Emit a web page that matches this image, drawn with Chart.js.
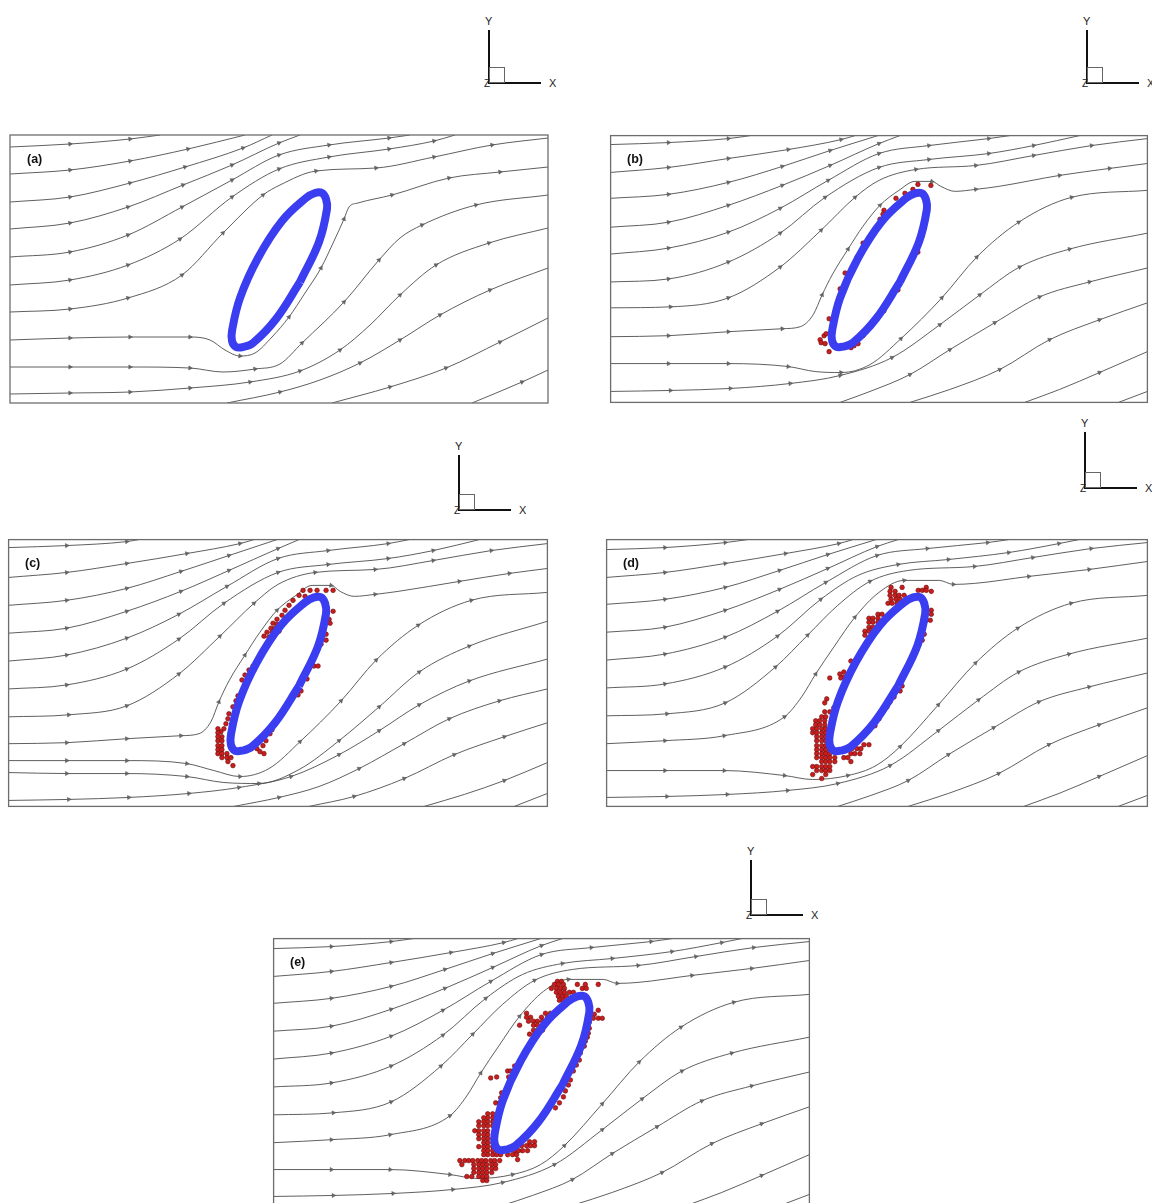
<!DOCTYPE html>
<html lang="en">
  <head>
    <meta charset="UTF-8" />
    <title>Streamlines around an inclined ellipse</title>
    <script src="https://cdn.jsdelivr.net/npm/chart.js@4.4.1/dist/chart.umd.min.js"></script>
    <style>
      html, body {
        margin: 0;
        padding: 0;
        background: #fff;
        width: 1152px;
        height: 1203px;
        overflow: hidden;
        position: relative;
        font-family: "Liberation Sans", Arial, sans-serif;
      }
      canvas { position: absolute; }
      .lbl { position: absolute; font-weight: bold; font-size: 12.5px; color: #111; }
      .triad { position: absolute; }
      .triad .v, .triad .h { position: absolute; background: #111; }
      .triad .sq { position: absolute; border: 1px solid #666; box-sizing: border-box; }
      .triad span { position: absolute; font-size: 11px; color: #222; line-height: 11px; }
    </style>
  </head>
  <body>
    <script>
      // panel units: x 0..538 (left to right), y 0..268 (top to bottom)
      const streamsA = [
        [[0,12],[60,9],[120,4],[150,0]],
        [[0,39],[60,35],[120,26],[178,14],[235,0]],
        [[0,67],[60,62],[120,48],[175,32],[233,13],[262,0]],
        [[0,94],[60,88],[118,72],[173,50],[222,30],[269,8],[290,0]],
        [[0,122],[60,117],[118,100],[172,72],[222,45],[269,20],[319,10],[379,3],[400,0]],
        [[0,150],[60,145],[118,130],[170,104],[222,62],[269,34],[319,22],[379,14],[424,6],[445,0]],
        [[0,177],[60,174],[118,163],[172,140],[213,98],[253,60],[270,50],[306,36],[366,33],[424,22],[482,10],[538,3]],
        [[0,205],[60,203],[120,202],[180,202],[200,205],[215,215],[230,221],[245,218],[262,202],[279,182],[295,158],[311,133],[324,106],[334,84],[339,72],[348,68],[382,60],[439,43],[490,37],[538,32]],
        [[0,232],[60,232],[120,232],[180,233],[213,237],[245,234],[270,229],[292,208],[334,167],[369,125],[390,103],[412,90],[466,70],[538,60]],
        [[0,259],[60,258],[120,257],[180,253],[240,247],[290,236],[330,215],[360,190],[390,160],[426,130],[479,108],[538,93]],
        [[217,268],[270,257],[310,245],[350,228],[390,205],[430,180],[480,155],[538,133]],
        [[322,268],[380,252],[436,233],[490,207],[538,183]],
        [[462,268],[512,247],[538,235]]
      ];

      const streamsB = [
        [[0,9],[58,7],[118,3],[140,0]],
        [[0,37],[58,32],[118,23],[178,14],[231,4],[245,0]],
        [[0,63],[58,59],[118,47],[172,31],[220,15],[268,0]],
        [[0,92],[58,87],[118,70],[172,50],[220,30],[269,8],[290,0]],
        [[0,119],[58,113],[118,97],[170,73],[218,45],[269,18],[319,10],[379,3],[400,0]],
        [[0,147],[58,144],[118,127],[170,98],[215,62],[269,32],[319,24],[379,18],[424,10],[470,0]],
        [[0,173],[60,172],[118,163],[170,132],[211,95],[245,62],[269,45],[306,34],[366,30],[424,20],[482,10],[538,3]],
        [[0,202],[58,201],[118,197],[172,194],[190,192],[203,180],[212,160],[222,140],[238,114],[253,91],[270,70],[289,55],[305,46],[322,46],[331,51],[345,56],[366,54],[389,51],[450,40],[500,33],[538,28]],
        [[0,229],[58,229],[118,229],[178,232],[205,237],[231,238],[260,230],[291,204],[332,163],[367,122],[409,87],[462,62],[538,55]],
        [[0,257],[60,256],[120,254],[180,249],[230,241],[282,223],[330,190],[370,160],[410,132],[460,114],[538,98]],
        [[230,268],[260,257],[300,240],[340,215],[385,188],[430,162],[480,147],[538,133]],
        [[300,268],[340,255],[390,235],[440,205],[490,185],[538,168]],
        [[415,268],[450,255],[490,238],[538,217]],
        [[509,268],[538,257]]
      ];

      const streamsC = [
        [[0,8],[58,6],[118,2],[130,0]],
        [[0,38],[58,33],[118,24],[178,14],[231,4],[245,0]],
        [[0,66],[58,61],[118,49],[172,32],[220,16],[268,0]],
        [[0,94],[58,89],[118,72],[172,52],[220,31],[269,9],[290,0]],
        [[0,122],[58,116],[118,99],[170,75],[218,47],[269,19],[319,11],[379,4],[400,0]],
        [[0,150],[58,146],[118,130],[170,100],[215,64],[269,33],[319,25],[379,19],[424,11],[470,0]],
        [[0,178],[60,176],[118,167],[170,135],[211,97],[245,64],[269,45],[306,33],[366,30],[424,21],[482,11],[538,4]],
        [[0,205],[58,204],[118,200],[172,197],[190,195],[202,183],[210,163],[220,142],[236,116],[251,93],[268,71],[287,56],[303,46],[322,46],[331,52],[345,57],[366,55],[389,52],[450,42],[500,34],[538,29]],
        [[0,222],[58,222],[118,222],[178,225],[205,232],[231,238],[260,230],[291,203],[332,162],[367,121],[409,86],[462,61],[538,53]],
        [[0,234],[58,235],[118,235],[178,238],[215,244],[250,245],[290,231],[330,202],[370,168],[410,133],[460,107],[538,82]],
        [[0,262],[60,261],[120,259],[180,255],[230,249],[282,238],[330,216],[370,192],[410,166],[460,142],[538,120]],
        [[225,268],[270,259],[310,248],[350,230],[395,205],[440,180],[490,162],[538,150]],
        [[300,268],[345,258],[395,240],[445,216],[495,198],[538,184]],
        [[415,268],[455,256],[495,242],[538,224]],
        [[505,268],[538,255]]
      ];

      const streamsD = [
        [[0,10],[58,8],[118,3],[140,0]],
        [[0,38],[58,33],[118,24],[178,14],[231,4],[245,0]],
        [[0,65],[58,60],[118,48],[172,31],[220,15],[268,0]],
        [[0,93],[58,88],[118,71],[172,50],[220,29],[269,7],[290,0]],
        [[0,121],[58,115],[118,98],[170,72],[218,43],[269,16],[319,9],[379,3],[400,0]],
        [[0,149],[58,145],[118,128],[170,97],[213,60],[250,36],[290,25],[340,20],[400,13],[450,4],[470,0]],
        [[0,177],[60,175],[118,164],[168,128],[200,96],[230,66],[262,42],[300,31],[366,27],[424,18],[482,9],[538,3]],
        [[0,205],[58,202],[117,197],[177,178],[194,158],[208,135],[226,108],[247,78],[271,53],[296,41],[331,41],[345,45],[366,44],[420,37],[480,30],[538,22]],
        [[0,232],[58,232],[117,232],[177,237],[205,241],[240,237],[268,227],[292,208],[330,166],[367,124],[409,89],[462,64],[538,56]],
        [[0,259],[60,258],[120,256],[180,252],[230,245],[282,227],[330,192],[370,161],[410,133],[460,115],[538,99]],
        [[230,268],[260,258],[300,242],[340,216],[385,189],[430,163],[480,148],[538,134]],
        [[300,268],[340,255],[390,235],[440,206],[490,186],[538,169]],
        [[415,268],[450,255],[490,238],[538,217]],
        [[509,268],[538,257]]
      ];

      // centre line of the ellipse, read around the ring
      const ellipseRing = [
        [290,147],[266,184],[243,208],[233,212],[226,212],[222,206],[222,196],[230,163],
        [248,123],[272,86],[296,63],[305,58],[312,58],[316,64],[317,74],[309,107],[290,147]
      ];

      const dotsB = [
        [321,50],[308,49],[303,54],[295,58],[286,63],[274,75],[273,79],[270,84],[253,108],[247,122],
        [235,138],[230,154],[219,184],[214,201],[210,205],[211,208],[215,209],[219,217],[241,213],[244,211],
        [248,209],[253,201],[261,192],[274,176],[288,155],[291,146],[308,117],[216,199]
      ];

      const dotsC = [
        [294,51],[301,51],[308,51],[317,51],[324,51],[290,56],[296,57],[284,61],[280,66],[276,71],[273,76],
        [268,80],[264,84],[268,85],[262,89],[266,89],[258,93],[263,93],[255,97],[260,98],[270,92],
        [324,72],[320,80],[321,84],[317,95],[317,101],[312,105],[309,110],[305,127],[309,127],[298,140],[292,152],[289,156],
        [248,122],[244,127],[240,131],[236,136],[241,136],[245,131],[233,141],
        [229,157],[227,162],[224,168],[220,175],[219,180],[217,185],[215,190],[212,193],[209,190],[209,194],
        [213,198],[209,198],[209,202],[213,202],[209,207],[213,207],[209,211],[213,211],[209,215],[213,215],
        [218,215],[213,219],[218,219],[222,219],[224,227],[219,223],
        [241,210],[248,210],[254,207],[257,202],[261,195],[263,191],[266,185],[255,215],[251,213],[270,178],[276,168],[283,160]
      ];

      const dotsD = [
        [294,48],[318,48],[283,48],[310,51],[314,51],[318,51],[323,52],[282,52],[287,52],[282,56],[287,56],[291,56],[296,56],
        [283,60],[288,60],[292,60],[280,64],[284,64],[289,64],
        [270,75],[274,75],[261,79],[265,79],[270,79],[261,83],[265,83],[270,83],[261,88],[265,88],[257,92],[261,92],[265,92],[257,96],
        [323,71],[323,75],[318,81],[322,81],[316,95],[314,101],[311,105],[309,110],[304,119],[303,123],[299,128],[296,134],
        [294,147],[292,152],[286,158],[282,163],[279,168],[275,172],[271,180],[267,187],
        [251,117],[247,122],[243,122],[236,133],[232,135],[236,138],[222,139],[240,139],[233,139],[247,126],
        [219,160],[217,164],[226,169],[217,173],[222,173],[214,178],[218,178],[208,182],[212,182],[217,182],[208,186],[212,186],[217,186],
        [205,190],[209,190],[214,190],[218,190],[205,194],[209,194],[214,194],[218,194],
        [209,198],[214,198],[218,198],[209,202],[214,202],[218,202],[209,207],[214,207],[218,207],
        [209,211],[214,211],[218,211],[222,211],[209,215],[214,215],[218,215],[222,215],
        [209,219],[214,219],[218,219],[222,219],[227,219],[214,223],[218,223],[222,223],[227,223],
        [205,228],[209,228],[214,228],[218,228],[222,228],[209,232],[214,232],[218,232],[222,232],[205,236],[218,236],[214,240],
        [256,206],[261,206],[240,210],[244,210],[249,210],[253,210],[243,215],[247,215],[252,215],[236,219],[240,219],[243,223]
      ];

      const dotsE = [
        [285,43],[289,43],[282,46],[286,46],[291,46],[305,46],[313,46],[326,46],[279,50],[284,50],[288,50],[292,50],[310,50],[314,50],
        [284,54],[288,54],[292,54],[297,54],[301,54],[286,58],[290,58],[294,58],[287,62],[291,62],
        [254,75],[273,75],[278,75],[254,79],[258,79],[269,79],[275,79],[256,83],[261,83],[265,83],[270,83],[247,87],[261,87],[265,87],
        [261,92],[265,92],[270,92],[257,96],[262,96],
        [326,72],[322,76],[317,80],[321,80],[326,80],[330,80],[317,84],[317,90],[316,95],[315,99],[313,103],[312,108],[308,115],
        [307,122],[304,127],[301,133],[298,142],[296,147],[293,153],[291,159],[287,165],[283,170],
        [249,120],[242,128],[246,128],[235,133],[238,133],[242,137],[224,139],[236,139],[218,140],[229,155],[228,160],[223,165],[227,165],
        [215,176],[220,176],[211,180],[215,180],[220,180],[206,184],[211,184],[215,184],[220,184],[206,188],[211,188],[215,188],[220,188],
        [202,193],[206,193],[211,193],[215,193],[206,197],[211,197],[215,197],[206,201],[211,201],[215,201],[220,201],
        [211,205],[215,205],[220,205],[206,209],[211,209],[215,209],[220,209],[224,209],[211,213],[215,213],[220,213],[224,213],
        [211,217],[215,217],[220,217],[224,217],[228,217],
        [187,223],[192,223],[196,223],[200,223],[205,223],[209,223],[213,223],[218,223],[222,223],[227,223],
        [189,227],[201,227],[206,227],[210,227],[214,227],[219,227],[223,227],
        [201,231],[206,231],[210,231],[214,231],[219,231],[223,231],
        [201,235],[206,235],[210,235],[214,235],[219,235],
        [194,239],[199,239],[206,239],[210,239],[214,239],[210,243],[214,243],
        [257,204],[262,204],[249,208],[254,208],[258,208],[262,208],[242,213],[246,213],[250,213],[255,213],
        [235,217],[240,217],[244,217],[245,222]
      ];

      const panels = [
        { label: "(a)", left: 10,  top: 135, w: 538, h: 268, streams: streamsA, dots: [] },
        { label: "(b)", left: 610, top: 135, w: 538, h: 268, streams: streamsB, dots: dotsB },
        { label: "(c)", left: 8,   top: 539, w: 540, h: 268, streams: streamsC, dots: dotsC },
        { label: "(d)", left: 606, top: 539, w: 542, h: 268, streams: streamsD, dots: dotsD },
        { label: "(e)", left: 273, top: 938, w: 537, h: 268, streams: streamsD, dots: dotsE }
      ];

      // corner of each Y/X triad
      const triads = [
        { x: 489, y: 83, top: 30 },
        { x: 1087, y: 83, top: 30 },
        { x: 459, y: 510, top: 455 },
        { x: 1085, y: 488, top: 432 },
        { x: 751, y: 915, top: 860 }
      ];

      const PAD = 4;

      const framePlugin = {
        id: "frame",
        afterDatasetsDraw(chart) {
          const { ctx, chartArea: a } = chart;
          ctx.save();
          ctx.strokeStyle = "#6d6d6d";
          ctx.lineWidth = 1.3;
          ctx.strokeRect(a.left, a.top, a.right - a.left, a.bottom - a.top);
          ctx.restore();
        }
      };

      // arrows every ~45 units of path length
      function arrowMask(pts) {
        const mask = pts.map(() => false);
        let run = 0;
        for (let i = 1; i < pts.length - 1; i++) {
          run += Math.hypot(pts[i][0] - pts[i - 1][0], pts[i][1] - pts[i - 1][1]);
          if (run >= 45) { mask[i] = true; run = 0; }
        }
        return mask;
      }

      function heading(pts, i) {
        const a = pts[Math.max(i - 1, 0)];
        const b = pts[Math.min(i + 1, pts.length - 1)];
        return Math.atan2(b[1] - a[1], b[0] - a[0]) * 180 / Math.PI + 90;
      }

      const toXY = (pts) => pts.map(([x, y]) => ({ x: x, y: y }));

      panels.forEach((p) => {
        const canvas = document.createElement("canvas");
        canvas.width = p.w + PAD * 2;
        canvas.height = p.h + PAD * 2;
        canvas.style.left = p.left - PAD + "px";
        canvas.style.top = p.top - PAD + "px";
        document.body.appendChild(canvas);

        const datasets = [];
        datasets.push({
          data: toXY(ellipseRing),
          showLine: true,
          tension: 0.4,
          borderColor: "#3b3ef0",
          borderWidth: 8,
          pointRadius: 0,
          order: 0
        });
        if (p.dots.length) {
          datasets.push({
            data: toXY(p.dots),
            showLine: false,
            pointRadius: 2.3,
            backgroundColor: "#c81e1e",
            borderColor: "#6e0c0c",
            borderWidth: 0.6,
            order: 1
          });
        }
        p.streams.forEach((s) => {
          const mask = arrowMask(s);
          datasets.push({
            data: toXY(s),
            showLine: true,
            cubicInterpolationMode: "monotone",
            borderColor: "#4d4d4d",
            borderWidth: 0.9,
            clip: 0,
            pointStyle: "triangle",
            pointRadius: (c) => (mask[c.dataIndex] ? 2.4 : 0),
            pointRotation: (c) => heading(s, c.dataIndex),
            backgroundColor: "#666",
            pointBorderColor: "#555",
            pointBorderWidth: 0.5,
            order: 2
          });
        });

        new Chart(canvas, {
          type: "scatter",
          data: { datasets: datasets },
          options: {
            responsive: false,
            animation: false,
            events: [],
            layout: { padding: PAD },
            plugins: { legend: { display: false }, tooltip: { enabled: false } },
            scales: {
              x: { type: "linear", min: 0, max: 538, display: false },
              y: { type: "linear", min: 0, max: 268, reverse: true, display: false }
            }
          },
          plugins: [framePlugin]
        });

        const lbl = document.createElement("div");
        lbl.className = "lbl";
        lbl.textContent = p.label;
        lbl.style.left = p.left + 17 + "px";
        lbl.style.top = p.top + 17 + "px";
        document.body.appendChild(lbl);
      });

      triads.forEach((t) => {
        const d = document.createElement("div");
        d.className = "triad";
        d.style.left = t.x + "px";
        d.style.top = t.y + "px";
        const len = t.y - t.top;
        d.innerHTML =
          `<div class="v" style="left:-1px;top:${-len}px;width:2px;height:${len + 1}px"></div>` +
          `<div class="h" style="left:-1px;top:-1px;width:53px;height:2px"></div>` +
          `<div class="sq" style="left:0;top:-16px;width:16px;height:16px"></div>` +
          `<span style="left:-4px;top:${-len - 14}px">Y</span>` +
          `<span style="left:60px;top:-5px">X</span>` +
          `<span style="left:-5px;top:-5px;font-size:10px">Z</span>`;
        document.body.appendChild(d);
      });
    </script>
  </body>
</html>
